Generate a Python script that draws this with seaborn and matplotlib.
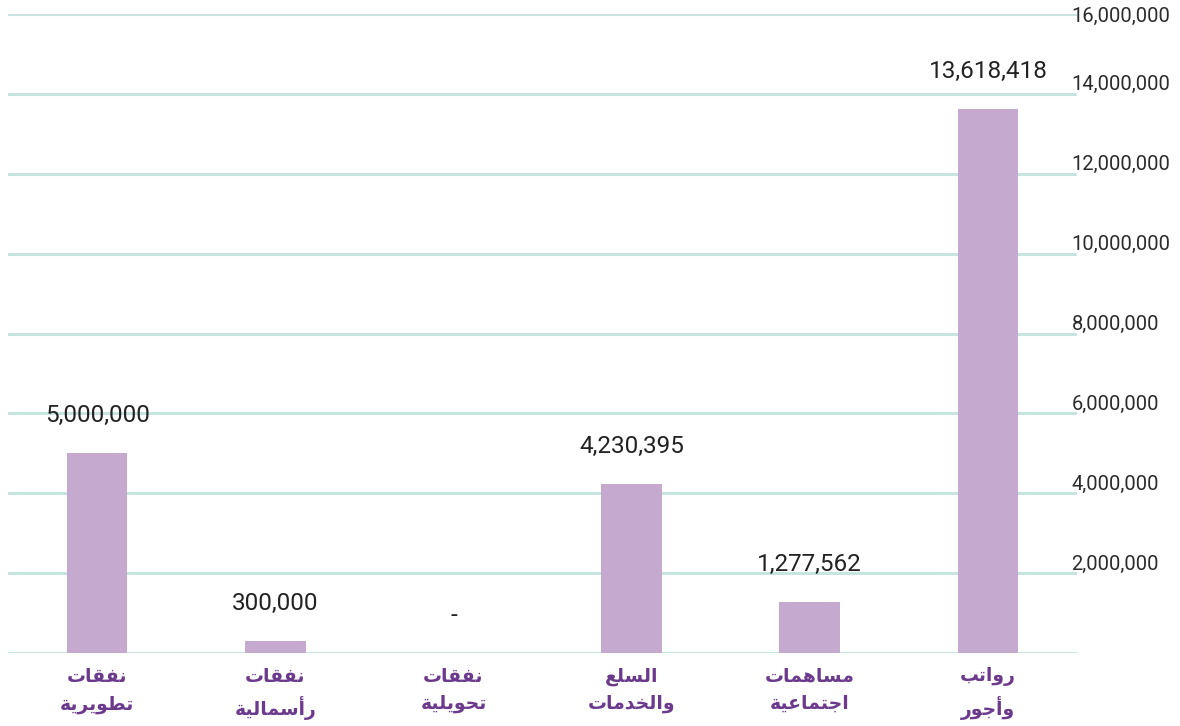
import matplotlib
matplotlib.use("Agg")
import matplotlib.pyplot as plt
import matplotlib.transforms as mtransforms
import seaborn as sns
import pandas as pd
from matplotlib.ticker import FuncFormatter

# ---- data ----
categories = ["نفقات\nتطويرية", "نفقات\nرأسمالية", "نفقات\nتحويلية",
              "السلع\nوالخدمات", "مساهمات\nاجتماعية", "رواتب\nوأجور"]
values = [5000000, 300000, 0, 4230395, 1277562, 13618418]
value_labels = ["5,000,000", "300,000", "-", "4,230,395", "1,277,562", "13,618,418"]
y_ticks = [0, 2000000, 4000000, 6000000, 8000000, 10000000, 12000000, 14000000, 16000000]

# ---- minimal Arabic shaping (matplotlib has no complex text layout) ----
FORMS = {  # isolated, final, initial, medial
    "ا": (0xFE8D, 0xFE8E, None, None), "أ": (0xFE83, 0xFE84, None, None),
    "ب": (0xFE8F, 0xFE90, 0xFE91, 0xFE92), "ة": (0xFE93, 0xFE94, None, None),
    "ت": (0xFE95, 0xFE96, 0xFE97, 0xFE98), "ج": (0xFE9D, 0xFE9E, 0xFE9F, 0xFEA0),
    "ح": (0xFEA1, 0xFEA2, 0xFEA3, 0xFEA4), "خ": (0xFEA5, 0xFEA6, 0xFEA7, 0xFEA8),
    "د": (0xFEA9, 0xFEAA, None, None), "ر": (0xFEAD, 0xFEAE, None, None),
    "س": (0xFEB1, 0xFEB2, 0xFEB3, 0xFEB4), "ط": (0xFEC1, 0xFEC2, 0xFEC3, 0xFEC4),
    "ع": (0xFEC9, 0xFECA, 0xFECB, 0xFECC), "ف": (0xFED1, 0xFED2, 0xFED3, 0xFED4),
    "ق": (0xFED5, 0xFED6, 0xFED7, 0xFED8), "ل": (0xFEDD, 0xFEDE, 0xFEDF, 0xFEE0),
    "م": (0xFEE1, 0xFEE2, 0xFEE3, 0xFEE4), "ن": (0xFEE5, 0xFEE6, 0xFEE7, 0xFEE8),
    "ه": (0xFEE9, 0xFEEA, 0xFEEB, 0xFEEC), "و": (0xFEED, 0xFEEE, None, None),
    "ي": (0xFEF1, 0xFEF2, 0xFEF3, 0xFEF4),
}


def shape_word(w):
    out = []
    for i, ch in enumerate(w):
        f = FORMS.get(ch)
        if f is None:
            out.append(ch)
            continue
        prev = w[i - 1] if i > 0 else None
        nxt = w[i + 1] if i + 1 < len(w) else None
        join_prev = prev in FORMS and FORMS[prev][2] is not None
        join_next = f[2] is not None and nxt in FORMS
        if join_prev and join_next:
            code = f[3]
        elif join_prev:
            code = f[1]
        elif join_next:
            code = f[2]
        else:
            code = f[0]
        out.append(chr(code))
    return "".join(reversed(out))


def shape(text):
    return "\n".join(" ".join(shape_word(w) for w in reversed(line.split(" ")))
                     for line in text.split("\n"))


df = pd.DataFrame({"category": categories, "value": values})

sns.set_theme(style="white")
plt.rcParams["font.family"] = ["Roboto", "DejaVu Sans"]

fig = plt.figure(figsize=(11.8, 7.26), dpi=100)
ax = fig.add_axes([8 / 1180, 73 / 726, 1069 / 1180, 639 / 726])

bar_color = "#c6a9cf"
grid_color = "#c8e4e1"
label_purple = "#6b3a8c"

sns.barplot(data=df, x="category", y="value", color=bar_color, width=0.34,
            saturation=1, linewidth=0, edgecolor="none", ax=ax, zorder=3)

ax.set_ylim(0, 16000000)
ax.set_yticks(y_ticks)
ax.yaxis.tick_right()
ax.yaxis.set_major_formatter(FuncFormatter(lambda v, p: "" if v == 0 else f"{int(v):,}"))
ax.tick_params(axis="y", length=0, pad=-4, labelsize=14.5, labelcolor="#2b2b2b")
up = mtransforms.ScaledTranslation(0, 11 / 100, fig.dpi_scale_trans)
for tick in ax.yaxis.get_major_ticks():
    if tick.get_loc() < 16000000:
        tick.label2.set_transform(tick.label2.get_transform() + up)
ax.grid(axis="y", color=grid_color, linewidth=2.2, zorder=0)
ax.set_axisbelow(True)

ax.set_xticks(range(len(categories)))
ax.set_xticklabels([shape(c) for c in categories], fontsize=13.5, fontweight="bold",
                   color=label_purple, family="DejaVu Sans", linespacing=1.55)
ax.tick_params(axis="x", length=0, pad=10)
ax.set_xlabel("")
ax.set_ylabel("")
for s in ax.spines.values():
    s.set_visible(False)

ax.bar_label(ax.containers[0], labels=value_labels, padding=19, fontsize=17.5,
             color="#222222")

fig.savefig("out.png", dpi=100)
